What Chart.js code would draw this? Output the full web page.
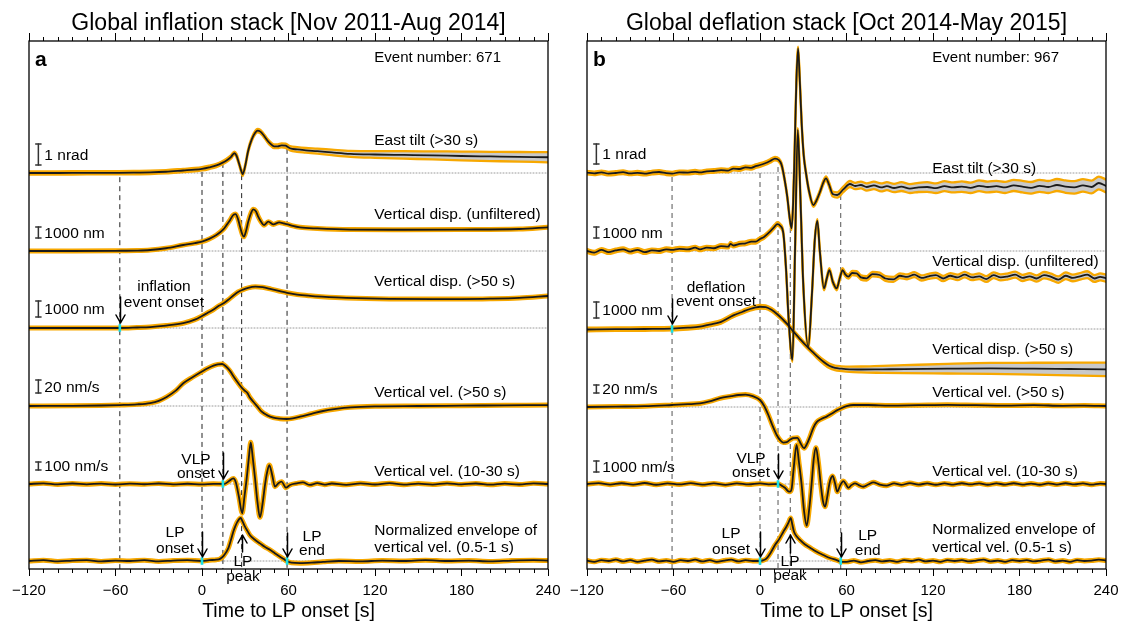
<!DOCTYPE html>
<html><head><meta charset="utf-8">
<script src="https://cdn.jsdelivr.net/npm/chart.js@4.4.0/dist/chart.umd.min.js"></script>
<style>
html,body{margin:0;padding:0;background:#fff;width:1121px;height:623px;overflow:hidden}
#wl{position:absolute;left:0;top:0;width:580px;height:623px}
#wr{position:absolute;left:560px;top:0;width:580px;height:623px}
canvas{display:block}
</style></head><body>
<div id="wl"><canvas id="cl" width="580" height="623"></canvas></div>
<div id="wr"><canvas id="cr" width="580" height="623"></canvas></div>
<script>
// ---------- axis ticks ----------
const TIME_TICKS = [-120,-60,0,60,120,180,240];
const TICK_LABELS = ['\u2212120','\u221260','0','60','120','180','240'];
const AXIS_TITLE = 'Time to LP onset [s]';

// ---------- panel a : inflation stack ----------
// [time s, value, band half-width]
const L_TILT = [[-120,0,0.08],[-100,0,0.08],[-80,0.01,0.08],[-60,0.01,0.08],[-45,0.02,0.08],[-36,0.03,0.08],[-25,0.06,0.08],[-13,0.12,0.08],[-5,0.16,0.08],[0,0.2,0.08],[5,0.27,0.08],[10,0.36,0.08],[14,0.48,0.08],[17,0.6,0.08],[20,0.76,0.08],[22.4,0.94,0.08],[24,0.82,0.08],[25.5,0.5,0.08],[27,0.15,0.08],[28.2,-0.06,0.08],[30,0.35,0.08],[32,1.05,0.08],[34.5,1.6,0.08],[37,1.93,0.08],[38.6,2.02,0.08],[40.5,1.97,0.08],[42.5,1.82,0.08],[44.8,1.6,0.08],[47,1.42,0.085],[50,1.27,0.09],[52.5,1.27,0.09],[55.2,1.32,0.095],[58,1.3,0.1],[61,1.18,0.1],[66,1.12,0.11],[72,1.08,0.11],[80,1.04,0.12],[90,0.98,0.13],[103,0.91,0.14],[120,0.88,0.16],[140,0.86,0.18],[160,0.84,0.19],[180,0.81,0.21],[200,0.79,0.22],[220,0.77,0.23],[240,0.75,0.24]];
const L_DISPU = [[-120,0],[-90,0],[-60,20],[-45,40],[-36,90],[-25,250],[-13,545],[-5,720],[0,850],[5,1100],[10,1450],[14.8,1970],[17,2350],[19.4,2800],[21.5,3250],[23.3,3360],[25,2900],[26.4,2200],[28,1500],[29.1,1300],[30.5,1800],[32.1,2670],[34,3450],[35.6,3790],[37.5,3600],[39,3120],[41,2650],[43,2350],[46,2670],[49.5,2420],[53.5,2600],[57,2500],[59.5,2420],[63,2280],[68,2150],[80,2050],[103,1950],[140,1930],[180,1950],[220,2000],[240,2150]];
const L_DISP50 = [[-120,0],[-90,0],[-57,0],[-45,30],[-36,60],[-25,150],[-13,300],[-5,520],[0,750],[4,950],[8,1150],[12,1400],[15,1550],[18,1750],[22,2050],[25,2250],[28,2380],[32,2510],[37,2580],[42,2550],[48,2430],[54,2300],[59,2200],[66,2090],[75,2010],[83,1960],[100,1880],[130,1820],[160,1810],[180,1810],[200,1830],[220,1880],[240,2000]];
const L_VEL50 = [[-120,0],[-90,0.3],[-70,0.8],[-57,1.5],[-45,2.5],[-36,4.5],[-30,8],[-24.5,14],[-18,24],[-13,35],[-6,45],[0,53],[4,58],[8,62],[11,64],[14,64.6],[17,60],[19.4,54],[22,45],[25.2,35],[28,27],[30,23],[31.5,20],[33,14],[35.6,6.6],[38.5,-1],[41.4,-8.7],[45,-14],[49.5,-18],[54,-19.5],[58.7,-20],[63,-19],[68,-16.5],[76,-12],[84,-7.7],[93,-4.5],[103,-2],[120,-0.5],[150,0],[180,0.5],[210,1],[240,1.5]];
const L_VEL1030 = [[-120,0],[-110,8],[-100,-5],[-90,6],[-80,-4],[-70,5],[-60,-6],[-50,4],[-40,-3],[-30,6],[-20,-5],[-10,3],[0,-4],[8,2],[15.3,0],[19,40],[21.7,70],[23.5,20],[25.5,-150],[27.9,-366],[29.5,-150],[31,70],[32.5,330],[33.8,521],[35.2,330],[36.8,70],[38.5,-230],[40.2,-416],[42,-250],[43.7,-12],[45.2,150],[46.7,237],[48.6,120],[50.6,-33],[53,10],[55.2,29],[58.2,-46],[61,-12],[65.6,8],[70,20],[74.8,-12],[80,10],[85,-8],[90,6],[100,-10],[110,8],[120,-6],[130,10],[140,-8],[150,5],[160,-7],[170,8],[180,-5],[190,6],[200,-9],[210,5],[220,-6],[230,8],[240,0]];
const L_ENV = [[-120,0],[-110,0.02],[-100,-0.01],[-90,0.01],[-80,0.02],[-70,-0.01],[-60,0.01],[-50,0],[-40,0.02],[-30,-0.01],[-20,0.01],[-10,0.02],[0,0],[5,0.02],[10,0.03],[12.5,0.05],[15,0.12],[18.3,0.3],[20,0.48],[21.7,0.68],[23,0.8],[24.5,0.91],[26.8,1.0],[28,0.93],[29.8,0.8],[31.5,0.7],[33.3,0.6],[36.5,0.5],[40.2,0.41],[43.5,0.33],[47.1,0.26],[50.5,0.18],[54.1,0.1],[56.5,0.05],[58.7,0],[62,-0.04],[68,-0.05],[76,-0.04],[84,-0.02],[95,0],[110,-0.01],[125,0.01],[140,0],[155,0.02],[170,0],[185,0.01],[200,-0.01],[215,0.01],[230,0.02],[240,0.01]];
const L_MARK_T = [-57,0,14.5,27.5,59];
const L_MARK_TOP = [-0.2,0.05,0.48,-0.1,1.15];      // nrad, where the dashed marker starts
const L_LABELS = ['East tilt (>30 s)','Vertical disp. (unfiltered)','Vertical disp. (>50 s)','Vertical vel. (>50 s)','Vertical vel. (10-30 s)',['Normalized envelope of','vertical vel. (0.5-1 s)']];
const L_BAR_TEXT = ['1 nrad','1000 nm','1000 nm','20 nm/s','100 nm/s'];
const L_BAR_UNIT = [1,1000,1000,20,100];

// ---------- panel b : deflation stack ----------
const R_TILT = [[-120,0.02,0.09],[-115,-0.02,0.09],[-110,0.03,0.09],[-105,-0.03,0.09],[-100,0,0.09],[-95,0.04,0.09],[-90,-0.02,0.09],[-85,0.01,0.09],[-80,-0.03,0.09],[-75,0.02,0.09],[-70,0.05,0.09],[-65,-0.01,0.09],[-61,-0.03,0.09],[-56,0.03,0.09],[-50,0.02,0.09],[-45,0.06,0.09],[-41.6,0.03,0.09],[-37,0.08,0.09],[-32,0.1,0.09],[-27,0.14,0.09],[-22,0.12,0.09],[-18.5,0.22,0.09],[-14,0.2,0.09],[-10,0.28,0.09],[-6,0.26,0.09],[-3,0.34,0.09],[0,0.4,0.09],[4,0.5,0.09],[7,0.6,0.09],[10.4,0.72,0.09],[13,0.65,0.09],[15,0.4,0.09],[17,-0.3,0.09],[18.9,-1.18,0.09],[20.5,-2.2,0.09],[21.9,-2.77,0.09],[23,-1.5,0.09],[24,1.0,0.09],[25.2,4.5,0.09],[26.4,6.23,0.09],[27.5,4.8,0.09],[28.9,2.48,0.09],[30.3,0.9,0.09],[31.9,0,0.09],[34,-0.9,0.09],[37,-1.6,0.09],[39,-1.4,0.09],[41.6,-0.95,0.095],[43.8,-0.5,0.1],[45.8,-0.27,0.1],[48,-0.6,0.11],[50.4,-1.05,0.12],[53.6,-1.1,0.13],[57.8,-0.82,0.14],[62.4,-0.55,0.15],[66,-0.65,0.16],[70,-0.6,0.17],[74,-0.7,0.18],[79,-0.62,0.19],[84,-0.72,0.2],[88,-0.66,0.2],[93,-0.75,0.21],[98,-0.68,0.22],[104,-0.78,0.22],[110,-0.72,0.23],[116,-0.7,0.24],[122,-0.76,0.24],[128,-0.66,0.25],[134,-0.72,0.25],[140,-0.68,0.26],[146,-0.74,0.26],[152,-0.64,0.27],[158,-0.7,0.27],[164,-0.66,0.27],[170,-0.72,0.28],[176,-0.62,0.28],[182,-0.68,0.29],[188,-0.74,0.29],[194,-0.64,0.3],[200,-0.7,0.3],[206,-0.6,0.3],[212,-0.68,0.31],[218,-0.72,0.31],[224,-0.62,0.31],[230,-0.7,0.32],[235,-0.5,0.32],[240,-0.65,0.32]];
const R_DISPU = [[-120,0,170],[-115,-150,170],[-110,100,170],[-105,-100,170],[-100,50,170],[-95,150,170],[-90,-50,170],[-85,100,170],[-80,-100,170],[-75,50,170],[-70,0,170],[-65,150,170],[-61,100,170],[-56,200,170],[-50,150,170],[-45,300,170],[-41.6,150,170],[-37,300,170],[-32,250,170],[-27,450,170],[-22,400,170],[-20.5,650,170],[-18.5,500,170],[-14,650,170],[-10,700,170],[-6,850,170],[-3,850,170],[0,1090,170],[3,1300,170],[6.9,1760,170],[10,2200,170],[12,2450,170],[14,2300,170],[16.2,1600,170],[18,-1500,170],[20,-6500,170],[22.5,-9900,170],[24.3,0,170],[26.2,11000,170],[28,5000,170],[30,-3000,170],[33.5,-8700,170],[36,-4000,170],[38,1000,170],[39.8,2730,170],[41.5,0,170],[44.4,-3400,170],[46.3,-2500,170],[48.1,-1730,170],[50.5,-2800,170],[53.2,-3400,170],[55.3,-2500,170],[57.3,-1730,180],[59,-2100,180],[61.3,-2330,190],[64,-2000,190],[67,-2030,200],[70,-2400,200],[74,-2480,200],[78,-2100,210],[83,-2180,210],[87,-2500,210],[92.5,-2580,220],[97,-2250,220],[102,-2350,220],[107,-2150,230],[112,-2450,230],[117,-2300,230],[122,-2200,240],[127,-2500,240],[132,-2250,240],[137,-2400,250],[142,-2150,250],[147,-2400,250],[152,-2300,260],[157,-2550,260],[162,-2200,260],[167,-2400,270],[172,-2300,270],[177,-2150,270],[182,-2450,280],[187,-2300,280],[192,-2500,280],[197,-2200,290],[202,-2350,290],[207,-2600,290],[212,-2250,300],[217,-2450,300],[222,-2300,300],[227,-2150,310],[232,-2500,310],[236,-2350,320],[240,-2480,320]];
const R_DISP50 = [[-120,-30,110],[-100,-10,110],[-80,0,110],[-61,20,110],[-50,80,110],[-41.6,150,110],[-35,280,110],[-27,450,110],[-18.5,850,110],[-12,1080,110],[-7,1250,110],[-3,1350,110],[0,1390,110],[4,1370,110],[8,1200,110],[12,920,110],[16,580,110],[20,200,110],[23,-150,110],[27,-550,110],[31,-950,110],[35,-1300,110],[39.5,-1700,120],[44,-2050,130],[48,-2300,140],[52,-2430,145],[56.4,-2480,150],[62,-2520,165],[70,-2530,185],[85,-2520,220],[100,-2510,250],[130,-2480,300],[160,-2460,340],[190,-2480,370],[215,-2500,395],[240,-2520,420]];
const R_VEL50 = [[-120,0],[-100,1],[-80,2],[-61,5],[-50,7],[-41.6,9],[-35,14],[-27.7,22],[-20,27],[-15,30],[-10,31],[-5,27],[0,17.5],[3,2],[5.8,-20],[8.5,-45],[11.6,-70],[14,-83],[16.2,-89],[18.5,-88],[20.8,-82],[23,-78],[25.9,-77],[28.3,-92],[30.5,-103],[32.5,-93],[34.7,-74],[37,-52],[39.3,-38],[42.5,-30],[46.2,-24],[50,-16],[53,-9],[56.4,-3],[60,2],[64.7,5],[75,5],[90,3.5],[110,4.5],[130,5.5],[150,4.5],[170,3.5],[190,4.5],[210,3],[225,3.5],[240,2.5]];
const R_VEL1030 = [[-120,0],[-112,80],[-104,-60],[-96,70],[-88,-50],[-80,90],[-72,-70],[-64,60],[-56,-40],[-48,80],[-40,-60],[-32,50],[-24,-80],[-16,60],[-8,-40],[0,50],[6,-30],[12.7,0],[15,-150],[17.3,-340],[19.5,-650],[20.8,-700],[22,-400],[23.2,1200],[25.4,3550],[27,2000],[28.9,-90],[30.6,-2500],[32.4,-3790],[34.2,-2200],[35.8,0],[37.3,2300],[38.8,3300],[40.5,2000],[42.1,0],[43.6,-1500],[45.1,-2060],[46.6,-1200],[48.1,0],[49.3,550],[50.4,730],[52,100],[53.6,-700],[55.7,-100],[57.8,270],[59.5,0],[61.2,-340],[63.5,-100],[65.9,60],[68.5,-100],[71.6,-250],[75,-50],[78.6,150],[83,-50],[87.8,-150],[93,50],[98,-80],[104,80],[110,-60],[116,60],[122,-70],[128,50],[134,-60],[140,70],[146,-40],[152,60],[158,-70],[164,50],[170,-50],[176,70],[182,-60],[188,40],[194,-70],[200,60],[206,-50],[212,70],[218,-40],[224,50],[230,-60],[236,40],[240,0]];
const R_ENV = [[-120,0.01],[-115,-0.02],[-110,0.02],[-105,0],[-100,0.03],[-95,-0.01],[-90,0.02],[-85,-0.02],[-80,0.01],[-75,0.03],[-70,-0.01],[-65,0.01],[-60,-0.02],[-55,0.02],[-50,0],[-45,0.03],[-40,-0.01],[-35,0.02],[-30,-0.02],[-25,0.01],[-20,0.03],[-15,-0.01],[-10,0.02],[-5,0],[0,0],[2.5,0.02],[4.6,0.06],[7.5,0.2],[10.4,0.37],[13.5,0.52],[16.2,0.68],[18,0.78],[19.6,0.88],[21.3,1.0],[22.4,0.85],[23.6,0.68],[25.5,0.57],[27.7,0.49],[31,0.39],[34.7,0.31],[39,0.22],[43.9,0.14],[48.5,0.07],[53.2,0.02],[56.4,-0.02],[60,-0.02],[65,0.01],[70,-0.03],[75,0],[80,0.02],[85,-0.01],[90,0.01],[95,-0.02],[100,0.02],[105,0],[110,0.03],[115,-0.01],[120,0.01],[125,-0.02],[130,0.02],[135,0],[140,0.02],[145,-0.01],[150,0.01],[155,0.03],[160,-0.01],[165,0.01],[170,-0.02],[175,0.02],[180,0],[185,0.02],[190,-0.01],[195,0.01],[200,0.03],[205,-0.01],[210,0.01],[215,-0.02],[220,0.02],[225,0],[230,0.01],[235,0.03],[240,0.01]];
const R_MARK_T = [-61,0,12.5,21,56];
const R_MARK_TOP = [-0.2,0,0.3,-2.75,-1.1];
const R_LABELS = L_LABELS;
const R_BAR_TEXT = ['1 nrad','1000 nm','1000 nm','20 nm/s','1000 nm/s'];
const R_BAR_UNIT = [1,1000,1000,20,1000];

// ---------- layout / style (not data) ----------
const PLOT_TOP = 41, PLOT_BOTTOM = 569;
const ORANGE = '#F7A800', GRAYFILL = '#c9c9c9', BLACK = '#1a1a1a', CYAN = '#19e0e6';
const FONT = '"Liberation Sans", Arial, Helvetica, sans-serif';
const LABEL_T = 119.5, BAR_T = -113.5;
Chart.defaults.font.family = FONT;

const PANELS = [
 { canvas:'cl', area:{left:29,right:548}, pad:{left:29,right:32,top:33,bottom:12},
   title:'Global inflation stack [Nov 2011-Aug 2014]', letter:'a', event:'Event number: 671',
   dashColor:'#222', markT:L_MARK_T, markTop:L_MARK_TOP,
   traces:[
    {d:L_TILT, band:true, base:173, ppu:21, lab:L_LABELS[0], dy:[-32], barOff:8, unit:L_BAR_UNIT[0], bt:L_BAR_TEXT[0]},
    {d:L_DISPU, base:251, ppu:0.011, lab:L_LABELS[1], dy:[-36], barOff:13, unit:L_BAR_UNIT[1], bt:L_BAR_TEXT[1]},
    {d:L_DISP50, base:328, ppu:0.016, lab:L_LABELS[2], dy:[-46], barOff:11, unit:L_BAR_UNIT[2], bt:L_BAR_TEXT[2]},
    {d:L_VEL50, base:406, ppu:0.65, lab:L_LABELS[3], dy:[-13], barOff:13, unit:L_BAR_UNIT[3], bt:L_BAR_TEXT[3]},
    {d:L_VEL1030, base:484, ppu:0.08, lab:L_LABELS[4], dy:[-12], barOff:14, unit:L_BAR_UNIT[4], bt:L_BAR_TEXT[4]},
    {d:L_ENV, base:561, ppu:43, lab:L_LABELS[5], dy:[-30,-13]}
   ],
   cyan:[[2,-57],[4,14.5],[5,0],[5,59]],
   ann:[
    {t:-26.4, k:2, lines:['inflation','event onset'], dy:[-41,-25], at:-57, a0:-31, a1:-5},
    {t:-4.2, k:4, lines:['VLP','onset'], dy:[-24,-10], at:14.5, a0:-31, a1:-5},
    {t:-18.7, k:5, lines:['LP','onset'], dy:[-28,-12], at:0, a0:-29, a1:-4},
    {t:28.4, k:5, lines:['LP','peak'], dy:[1,16], at:27.5, a0:-9, a1:-26},
    {t:76.3, k:5, lines:['LP','end'], dy:[-24,-10], at:59, a0:-28, a1:-4}
   ]},
 { canvas:'cr', area:{left:27,right:546}, pad:{left:27,right:34,top:33,bottom:12},
   title:'Global deflation stack [Oct 2014-May 2015]', letter:'b', event:'Event number: 967',
   dashColor:'#555', markT:R_MARK_T, markTop:R_MARK_TOP,
   traces:[
    {d:R_TILT, band:true, base:173, ppu:20, lab:R_LABELS[0], dy:[-4], barOff:9, unit:R_BAR_UNIT[0], bt:R_BAR_TEXT[0]},
    {d:R_DISPU, band:true, base:251, ppu:0.011, lab:R_LABELS[1], dy:[11], barOff:13, unit:R_BAR_UNIT[1], bt:R_BAR_TEXT[1]},
    {d:R_DISP50, band:true, base:329, ppu:0.016, lab:R_LABELS[2], dy:[21], barOff:11, unit:R_BAR_UNIT[2], bt:R_BAR_TEXT[2]},
    {d:R_VEL50, base:407, ppu:0.4, lab:R_LABELS[3], dy:[-14], barOff:14, unit:R_BAR_UNIT[3], bt:R_BAR_TEXT[3]},
    {d:R_VEL1030, base:484, ppu:0.011, lab:R_LABELS[4], dy:[-12], barOff:12, unit:R_BAR_UNIT[4], bt:R_BAR_TEXT[4]},
    {d:R_ENV, base:561, ppu:43, lab:R_LABELS[5], dy:[-31,-13]}
   ],
   cyan:[[2,-61],[4,12.5],[5,0],[5,56]],
   ann:[
    {t:-30.5, k:2, lines:['deflation','event onset'], dy:[-41,-27], at:-61, a0:-30, a1:-5},
    {t:-6.2, k:4, lines:['VLP','onset'], dy:[-25,-11], at:12.5, a0:-30, a1:-5},
    {t:-20.1, k:5, lines:['LP','onset'], dy:[-27,-11], at:0, a0:-29, a1:-4},
    {t:20.8, k:5, lines:['LP','peak'], dy:[1,15], at:21, a0:-8, a1:-26},
    {t:74.7, k:5, lines:['LP','end'], dy:[-25,-10], at:56, a0:-28, a1:-4}
   ]}
];

function txt(ctx, s, x, y, size, align, weight){
  ctx.font = (weight||'') + ' ' + size + 'px ' + FONT;
  ctx.textAlign = align || 'left'; ctx.textBaseline = 'middle'; ctx.fillStyle = '#000';
  ctx.fillText(s, x, y);
}

function build(p){
  const xTicks = a => { a.ticks = TIME_TICKS.map(v => ({value:v})); };
  const scales = {
    x:{type:'linear', position:'bottom', min:-120, max:240, afterBuildTicks:xTicks,
       ticks:{callback:v => TICK_LABELS[TIME_TICKS.indexOf(v)], font:{size:15}, color:'#000', padding:6, maxRotation:0, autoSkip:false},
       grid:{drawOnChartArea:false, drawTicks:true, tickLength:7, tickColor:'#000', tickWidth:1}, border:{display:false}},
    xTop:{type:'linear', position:'top', min:-120, max:240, afterBuildTicks:xTicks,
       ticks:{display:false}, grid:{drawOnChartArea:false, drawTicks:true, tickLength:8, tickColor:'#000', tickWidth:1}, border:{display:false}}
  };
  const ds = [];
  const base = {type:'line', xAxisID:'x', pointRadius:0, borderCapStyle:'round', borderJoinStyle:'round'};
  p.traces.forEach((tr, k) => {
    const id = 'y' + k;
    scales[id] = {type:'linear', display:false, min:-(PLOT_BOTTOM - tr.base)/tr.ppu, max:(tr.base - PLOT_TOP)/tr.ppu};
    const pts = tr.d.map(q => ({x:q[0], y:q[1]}));
    ds.push(Object.assign({}, base, {yAxisID:id, data:[{x:-120,y:0},{x:240,y:0}], borderColor:'#9a9a9a', borderWidth:1, borderDash:[1,2], order:20}));
    if (tr.band){
      ds.push(Object.assign({}, base, {yAxisID:id, data:tr.d.map(q=>({x:q[0], y:q[1]+q[2]})), borderColor:ORANGE, borderWidth:2.3, cubicInterpolationMode:'monotone', fill:false, order:6}));
      ds.push(Object.assign({}, base, {yAxisID:id, data:tr.d.map(q=>({x:q[0], y:q[1]-q[2]})), borderColor:ORANGE, borderWidth:2.3, cubicInterpolationMode:'monotone', fill:'-1', backgroundColor:GRAYFILL, order:6}));
    } else {
      ds.push(Object.assign({}, base, {yAxisID:id, data:pts, borderColor:ORANGE, borderWidth:5, cubicInterpolationMode:'monotone', order:5}));
    }
    ds.push(Object.assign({}, base, {yAxisID:id, data:pts, borderColor:BLACK, borderWidth:1.8, cubicInterpolationMode:'monotone', order:1}));
    if (tr.unit){
      const y0 = tr.barOff / tr.ppu;
      ds.push(Object.assign({}, base, {yAxisID:id, data:[{x:BAR_T,y:y0},{x:BAR_T,y:y0+tr.unit}], borderColor:'#333', borderWidth:1.5,
        pointRadius:3.2, pointStyle:'line', pointBorderColor:'#333', pointBorderWidth:1.5, order:0}));
    }
  });
  p.markT.forEach((t, i) => {
    ds.push(Object.assign({}, base, {yAxisID:'y0', data:[{x:t,y:p.markTop[i]},{x:t,y:scales.y0.min}], borderColor:p.dashColor, borderWidth:1, borderDash:[5,4], borderCapStyle:'butt', order:15}));
  });
  p.cyan.forEach(c => {
    ds.push(Object.assign({}, base, {yAxisID:'y'+c[0], data:[{x:c[1], y:0}], showLine:false, pointRadius:3.8, pointStyle:'line', pointRotation:90, pointBorderColor:CYAN, pointBorderWidth:2.6, order:-1}));
  });

  const decor = {
    id:'decor',
    afterDraw(chart){
      const {ctx, chartArea:a, scales:s} = chart; const xs = s.x;
      ctx.save();
      ctx.strokeStyle = '#000'; ctx.lineWidth = 1.3;
      ctx.strokeRect(a.left, a.top, a.right - a.left, a.bottom - a.top);
      ctx.lineWidth = 1; ctx.beginPath();
      for (let t = -120; t <= 240; t += 10){
        if (TIME_TICKS.indexOf(t) >= 0) continue;
        const px = Math.round(xs.getPixelForValue(t)) + 0.5;
        ctx.moveTo(px, a.bottom); ctx.lineTo(px, a.bottom + 4);
        ctx.moveTo(px, a.top); ctx.lineTo(px, a.top - 4);
      }
      ctx.stroke();
      const cx = (a.left + a.right) / 2;
      txt(ctx, p.title, cx, 24, 23, 'center');
      txt(ctx, AXIS_TITLE, cx, 612, 19.5, 'center');
      txt(ctx, p.letter, a.left + 6, 60, 21, 'left', 'bold');
      const lx = xs.getPixelForValue(LABEL_T);
      txt(ctx, p.event, lx, 58, 15, 'left');
      p.traces.forEach((tr, k) => {
        const ys = s['y' + k]; const b = ys.getPixelForValue(0);
        const labs = Array.isArray(tr.lab) ? tr.lab : [tr.lab];
        labs.forEach((l, i) => txt(ctx, l, lx, b + tr.dy[i], 15.5, 'left'));
        if (tr.unit){
          const ym = ys.getPixelForValue(tr.barOff / tr.ppu + tr.unit / 2);
          txt(ctx, tr.bt, xs.getPixelForValue(BAR_T) + 6, ym + 1, 15.5, 'left');
        }
      });
      ctx.strokeStyle = '#000'; ctx.lineWidth = 1.5; ctx.lineCap = 'round'; ctx.lineJoin = 'round';
      p.ann.forEach(an => {
        const b = s['y' + an.k].getPixelForValue(0);
        const tx = xs.getPixelForValue(an.t);
        an.lines.forEach((l, i) => txt(ctx, l, tx, b + an.dy[i], 15.5, 'center'));
        const ax = Math.round(xs.getPixelForValue(an.at)) + 0.5;
        const y0 = b + an.a0, y1 = b + an.a1, dir = Math.sign(y1 - y0);
        ctx.beginPath();
        ctx.moveTo(ax, y0); ctx.lineTo(ax, y1);
        ctx.moveTo(ax - 4.5, y1 - 8 * dir); ctx.lineTo(ax, y1); ctx.lineTo(ax + 4.5, y1 - 8 * dir);
        ctx.stroke();
      });
      ctx.restore();
    }
  };

  const chart = new Chart(document.getElementById(p.canvas), {
    type:'line',
    data:{datasets:ds},
    options:{
      responsive:false, animation:false, events:[], devicePixelRatio:1,
      layout:{padding:Object.assign({}, p.pad)},
      scales,
      plugins:{legend:{display:false}, tooltip:{enabled:false}, title:{display:false}}
    },
    plugins:[decor]
  });
  for (let i = 0; i < 3; i++){
    const ca = chart.chartArea, pad = chart.options.layout.padding;
    const dT = PLOT_TOP - ca.top, dB = ca.bottom - PLOT_BOTTOM, dL = p.area.left - ca.left, dR = ca.right - p.area.right;
    if (Math.abs(dT) < 0.5 && Math.abs(dB) < 0.5 && Math.abs(dL) < 0.5 && Math.abs(dR) < 0.5) break;
    pad.top += dT; pad.bottom += dB; pad.left += dL; pad.right += dR;
    chart.update();
  }
  return chart;
}
PANELS.forEach(build);
</script></body></html>
